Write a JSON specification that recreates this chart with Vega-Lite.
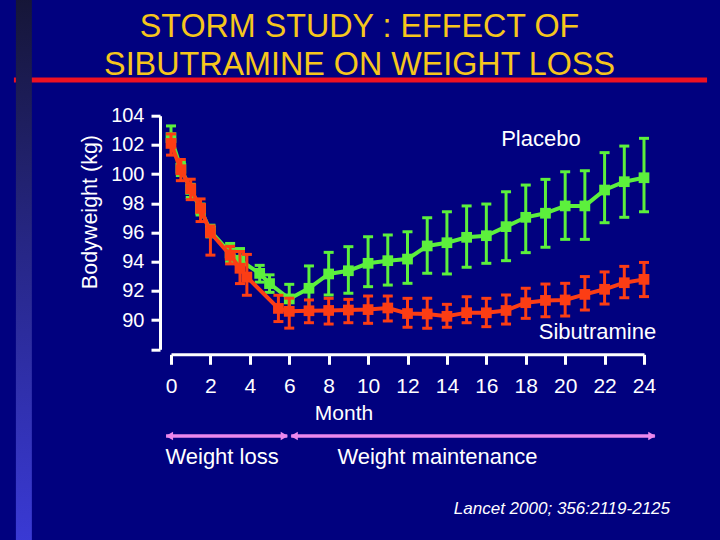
{
  "$schema": "https://vega.github.io/schema/vega-lite/v6.json",
  "width": 473,
  "height": 233.6,
  "autosize": {"type": "none"},
  "padding": {"left": 171, "top": 115.7, "right": 76, "bottom": 190.7},
  "background": "#01017f",
  "config": {
    "view": {"stroke": null},
    "font": "Liberation Sans",
    "axis": {
      "domainColor": "#ffffff",
      "domainWidth": 3,
      "tickColor": "#ffffff",
      "tickWidth": 3,
      "labelColor": "#ffffff",
      "labelFont": "Liberation Sans",
      "grid": false,
      "labelOverlap": false,
      "labelFlush": false
    },
    "axisX": {"offset": 5, "tickSize": 10, "labelPadding": 11, "labelFontSize": 21, "tickCount": 13},
    "axisY": {"offset": 11, "tickSize": 9, "labelPadding": 7, "labelFontSize": 20, "tickCount": 9, "labelExpr": "datum.value == 88 ? '' : datum.label"}
  },
  "datasets": {
    "weights": [
      {"group": "Placebo", "month": 0, "kg": 102.5, "lo": 101.9, "hi": 103.3},
      {"group": "Placebo", "month": 0.5, "kg": 100.4, "lo": 99.9, "hi": 100.8},
      {"group": "Placebo", "month": 1, "kg": 98.95, "lo": 98.4, "hi": 99.3},
      {"group": "Placebo", "month": 1.5, "kg": 97.6, "lo": 97.2, "hi": 97.95},
      {"group": "Placebo", "month": 2, "kg": 96.1, "lo": 95.7, "hi": 96.5},
      {"group": "Placebo", "month": 3, "kg": 94.6, "lo": 94.0, "hi": 95.25},
      {"group": "Placebo", "month": 3.5, "kg": 94.1, "lo": 93.4, "hi": 94.9},
      {"group": "Placebo", "month": 4.5, "kg": 93.2, "lo": 92.6, "hi": 93.75},
      {"group": "Placebo", "month": 5, "kg": 92.5, "lo": 91.9, "hi": 93.1},
      {"group": "Placebo", "month": 6, "kg": 91.45, "lo": 90.5, "hi": 92.45},
      {"group": "Placebo", "month": 7, "kg": 92.18, "lo": 90.64, "hi": 93.71},
      {"group": "Placebo", "month": 8, "kg": 93.16, "lo": 91.72, "hi": 94.64},
      {"group": "Placebo", "month": 9, "kg": 93.38, "lo": 91.84, "hi": 95.03},
      {"group": "Placebo", "month": 10, "kg": 93.89, "lo": 92.29, "hi": 95.71},
      {"group": "Placebo", "month": 11, "kg": 94.07, "lo": 92.4, "hi": 95.83},
      {"group": "Placebo", "month": 12, "kg": 94.18, "lo": 92.52, "hi": 96.05},
      {"group": "Placebo", "month": 13, "kg": 95.08, "lo": 93.21, "hi": 97.01},
      {"group": "Placebo", "month": 14, "kg": 95.3, "lo": 93.16, "hi": 97.42},
      {"group": "Placebo", "month": 15, "kg": 95.67, "lo": 93.62, "hi": 97.82},
      {"group": "Placebo", "month": 16, "kg": 95.78, "lo": 93.89, "hi": 97.95},
      {"group": "Placebo", "month": 17, "kg": 96.4, "lo": 94.07, "hi": 98.79},
      {"group": "Placebo", "month": 18, "kg": 97.04, "lo": 94.62, "hi": 99.25},
      {"group": "Placebo", "month": 19, "kg": 97.32, "lo": 94.99, "hi": 99.64},
      {"group": "Placebo", "month": 20, "kg": 97.82, "lo": 95.53, "hi": 100.16},
      {"group": "Placebo", "month": 21, "kg": 97.82, "lo": 95.53, "hi": 100.23},
      {"group": "Placebo", "month": 22, "kg": 98.91, "lo": 96.67, "hi": 101.47},
      {"group": "Placebo", "month": 23, "kg": 99.48, "lo": 97.04, "hi": 101.92},
      {"group": "Placebo", "month": 24, "kg": 99.75, "lo": 97.42, "hi": 102.45},
      {"group": "Sibutramine", "month": 0, "kg": 102.1, "lo": 101.3, "hi": 102.75},
      {"group": "Sibutramine", "month": 0.5, "kg": 100.3, "lo": 99.55, "hi": 101.0},
      {"group": "Sibutramine", "month": 1, "kg": 99.0, "lo": 98.25, "hi": 99.65},
      {"group": "Sibutramine", "month": 1.5, "kg": 97.65, "lo": 96.75, "hi": 98.3},
      {"group": "Sibutramine", "month": 2, "kg": 96.0, "lo": 94.45, "hi": 96.45},
      {"group": "Sibutramine", "month": 3, "kg": 94.45, "lo": 93.85, "hi": 95.05},
      {"group": "Sibutramine", "month": 3.5, "kg": 93.55, "lo": 92.5, "hi": 94.7},
      {"group": "Sibutramine", "month": 3.85, "kg": 92.95, "lo": 91.7, "hi": 94.5},
      {"group": "Sibutramine", "month": 5.45, "kg": 90.8, "lo": 89.9, "hi": 91.7},
      {"group": "Sibutramine", "month": 6, "kg": 90.6, "lo": 89.45, "hi": 91.5},
      {"group": "Sibutramine", "month": 7, "kg": 90.64, "lo": 89.82, "hi": 91.38},
      {"group": "Sibutramine", "month": 8, "kg": 90.66, "lo": 89.73, "hi": 91.49},
      {"group": "Sibutramine", "month": 9, "kg": 90.69, "lo": 89.82, "hi": 91.42},
      {"group": "Sibutramine", "month": 10, "kg": 90.72, "lo": 89.78, "hi": 91.65},
      {"group": "Sibutramine", "month": 11, "kg": 90.83, "lo": 89.94, "hi": 91.65},
      {"group": "Sibutramine", "month": 12, "kg": 90.45, "lo": 89.51, "hi": 91.49},
      {"group": "Sibutramine", "month": 13, "kg": 90.42, "lo": 89.44, "hi": 91.49},
      {"group": "Sibutramine", "month": 14, "kg": 90.26, "lo": 89.51, "hi": 91.08},
      {"group": "Sibutramine", "month": 15, "kg": 90.51, "lo": 89.82, "hi": 91.6},
      {"group": "Sibutramine", "month": 16, "kg": 90.5, "lo": 89.55, "hi": 91.49},
      {"group": "Sibutramine", "month": 17, "kg": 90.66, "lo": 89.73, "hi": 91.72},
      {"group": "Sibutramine", "month": 18, "kg": 91.19, "lo": 90.12, "hi": 92.18},
      {"group": "Sibutramine", "month": 19, "kg": 91.35, "lo": 90.23, "hi": 92.47},
      {"group": "Sibutramine", "month": 20, "kg": 91.38, "lo": 90.28, "hi": 92.52},
      {"group": "Sibutramine", "month": 21, "kg": 91.76, "lo": 90.69, "hi": 92.98},
      {"group": "Sibutramine", "month": 22, "kg": 92.11, "lo": 91.1, "hi": 93.3},
      {"group": "Sibutramine", "month": 23, "kg": 92.56, "lo": 91.53, "hi": 93.68},
      {"group": "Sibutramine", "month": 24, "kg": 92.79, "lo": 91.61, "hi": 93.95}
    ]
  },
  "layer": [
    {
      "data": {"name": "weights"},
      "transform": [{"filter": "datum.group === 'Placebo'"}],
      "encoding": {
        "x": {
          "field": "month", "type": "quantitative", "title": null,
          "scale": {"domain": [0, 24], "nice": false, "zero": false}
        },
        "color": {"field": "group", "type": "nominal", "scale": {"domain": ["Placebo", "Sibutramine"], "range": ["#5cf03c", "#fc3d14"]}, "legend": null}
      },
      "layer": [
        {
          "mark": {"type": "rule", "strokeWidth": 3},
          "encoding": {
            "y": {
              "field": "lo", "type": "quantitative", "title": null,
              "scale": {"domain": [88, 104], "nice": false, "zero": false}
            },
            "y2": {"field": "hi"}
          }
        },
        {
          "mark": {"type": "tick", "orient": "horizontal", "size": 10, "thickness": 3, "opacity": 1},
          "encoding": {"y": {"field": "lo", "type": "quantitative", "title": null}}
        },
        {
          "mark": {"type": "tick", "orient": "horizontal", "size": 10, "thickness": 3, "opacity": 1},
          "encoding": {"y": {"field": "hi", "type": "quantitative", "title": null}}
        },
        {
          "mark": {"type": "line", "strokeWidth": 4},
          "encoding": {"y": {"field": "kg", "type": "quantitative", "title": null}}
        },
        {
          "mark": {"type": "point", "shape": "square", "filled": true, "size": 115, "opacity": 1},
          "encoding": {"y": {"field": "kg", "type": "quantitative", "title": null}}
        }
      ]
    },
    {
      "data": {"name": "weights"},
      "transform": [{"filter": "datum.group === 'Sibutramine'"}],
      "encoding": {
        "x": {"field": "month", "type": "quantitative", "title": null},
        "color": {"field": "group", "type": "nominal", "scale": {"domain": ["Placebo", "Sibutramine"], "range": ["#5cf03c", "#fc3d14"]}, "legend": null}
      },
      "layer": [
        {
          "mark": {"type": "rule", "strokeWidth": 3},
          "encoding": {"y": {"field": "lo", "type": "quantitative", "title": null}, "y2": {"field": "hi"}}
        },
        {
          "mark": {"type": "tick", "orient": "horizontal", "size": 10, "thickness": 3, "opacity": 1},
          "encoding": {"y": {"field": "lo", "type": "quantitative", "title": null}}
        },
        {
          "mark": {"type": "tick", "orient": "horizontal", "size": 10, "thickness": 3, "opacity": 1},
          "encoding": {"y": {"field": "hi", "type": "quantitative", "title": null}}
        },
        {
          "mark": {"type": "line", "strokeWidth": 4},
          "encoding": {"y": {"field": "kg", "type": "quantitative", "title": null}}
        },
        {
          "mark": {"type": "point", "shape": "square", "filled": true, "size": 115, "opacity": 1},
          "encoding": {"y": {"field": "kg", "type": "quantitative", "title": null}}
        }
      ]
    },
    {
      "data": {"values": [{}]},
      "mark": {"type": "rule", "color": "#ee1122", "strokeWidth": 5},
      "encoding": {
        "x": {"datum": -7.97, "type": "quantitative"},
        "x2": {"datum": 27.2},
        "y": {"datum": 106.45, "type": "quantitative"}
      }
    },
    {
      "data": {"values": [{}]},
      "mark": {
        "type": "rect",
        "stroke": null,
        "fill": {
          "gradient": "linear",
          "x1": 0, "y1": 0, "x2": 0, "y2": 1,
          "stops": [
            {"offset": 0, "color": "#151535"},
            {"offset": 0.45, "color": "#262684"},
            {"offset": 1, "color": "#3a3ad6"}
          ]
        }
      },
      "encoding": {
        "x": {"datum": -7.87, "type": "quantitative"},
        "x2": {"datum": -7.06},
        "y": {"datum": 112.5, "type": "quantitative"},
        "y2": {"datum": 74.5}
      }
    },
    {
      "data": {"values": [{}]},
      "mark": {"type": "text", "text": "STORM STUDY : EFFECT OF", "fontSize": 32.3, "color": "#f6c61c", "align": "center", "baseline": "alphabetic"},
      "encoding": {
        "x": {"datum": 9.565, "type": "quantitative"},
        "y": {"datum": 109.37, "type": "quantitative"}
      }
    },
    {
      "data": {"values": [{}]},
      "mark": {"type": "text", "text": "SIBUTRAMINE ON WEIGHT LOSS", "fontSize": 32.3, "color": "#f6c61c", "align": "center", "baseline": "alphabetic"},
      "encoding": {
        "x": {"datum": 9.565, "type": "quantitative"},
        "y": {"datum": 106.79, "type": "quantitative"}
      }
    },
    {
      "data": {"values": [{}]},
      "mark": {"type": "text", "text": "Bodyweight (kg)", "fontSize": 21.5, "color": "#ffffff", "align": "center", "baseline": "alphabetic", "angle": 270},
      "encoding": {
        "x": {"datum": -3.78, "type": "quantitative"},
        "y": {"datum": 97.4, "type": "quantitative"}
      }
    },
    {
      "data": {"values": [{}]},
      "mark": {"type": "text", "text": "Placebo", "fontSize": 22, "color": "#ffffff", "align": "center", "baseline": "alphabetic"},
      "encoding": {
        "x": {"datum": 18.77, "type": "quantitative"},
        "y": {"datum": 101.92, "type": "quantitative"}
      }
    },
    {
      "data": {"values": [{}]},
      "mark": {"type": "text", "text": "Sibutramine", "fontSize": 22, "color": "#ffffff", "align": "center", "baseline": "alphabetic"},
      "encoding": {
        "x": {"datum": 21.64, "type": "quantitative"},
        "y": {"datum": 88.68, "type": "quantitative"}
      }
    },
    {
      "data": {"values": [{}]},
      "mark": {"type": "text", "text": "Month", "fontSize": 21, "color": "#ffffff", "align": "center", "baseline": "alphabetic"},
      "encoding": {
        "x": {"datum": 8.78, "type": "quantitative"},
        "y": {"datum": 83.16, "type": "quantitative"}
      }
    },
    {
      "data": {"values": [{}]},
      "mark": {"type": "rule", "color": "#ec88ec", "strokeWidth": 3.5},
      "encoding": {
        "x": {"datum": -0.25, "type": "quantitative"},
        "x2": {"datum": 5.9},
        "y": {"datum": 82.06, "type": "quantitative"}
      }
    },
    {
      "data": {"values": [{}]},
      "mark": {"type": "rule", "color": "#ec88ec", "strokeWidth": 3.5},
      "encoding": {
        "x": {"datum": 6.1, "type": "quantitative"},
        "x2": {"datum": 24.55},
        "y": {"datum": 82.06, "type": "quantitative"}
      }
    },
    {
      "data": {"values": [{}]},
      "mark": {"type": "point", "shape": "triangle-left", "filled": true, "size": 70, "color": "#ec88ec", "opacity": 1},
      "encoding": {
        "x": {"datum": -0.08, "type": "quantitative"},
        "y": {"datum": 82.06, "type": "quantitative"}
      }
    },
    {
      "data": {"values": [{}]},
      "mark": {"type": "point", "shape": "triangle-right", "filled": true, "size": 70, "color": "#ec88ec", "opacity": 1},
      "encoding": {
        "x": {"datum": 5.75, "type": "quantitative"},
        "y": {"datum": 82.06, "type": "quantitative"}
      }
    },
    {
      "data": {"values": [{}]},
      "mark": {"type": "point", "shape": "triangle-left", "filled": true, "size": 70, "color": "#ec88ec", "opacity": 1},
      "encoding": {
        "x": {"datum": 6.25, "type": "quantitative"},
        "y": {"datum": 82.06, "type": "quantitative"}
      }
    },
    {
      "data": {"values": [{}]},
      "mark": {"type": "point", "shape": "triangle-right", "filled": true, "size": 70, "color": "#ec88ec", "opacity": 1},
      "encoding": {
        "x": {"datum": 24.4, "type": "quantitative"},
        "y": {"datum": 82.06, "type": "quantitative"}
      }
    },
    {
      "data": {"values": [{}]},
      "mark": {"type": "text", "text": "Weight loss", "fontSize": 22, "color": "#ffffff", "align": "center", "baseline": "alphabetic"},
      "encoding": {
        "x": {"datum": 2.59, "type": "quantitative"},
        "y": {"datum": 80.14, "type": "quantitative"}
      }
    },
    {
      "data": {"values": [{}]},
      "mark": {"type": "text", "text": "Weight maintenance", "fontSize": 22, "color": "#ffffff", "align": "center", "baseline": "alphabetic"},
      "encoding": {
        "x": {"datum": 13.52, "type": "quantitative"},
        "y": {"datum": 80.14, "type": "quantitative"}
      }
    },
    {
      "data": {"values": [{}]},
      "mark": {"type": "text", "text": "Lancet 2000; 356:2119-2125", "fontSize": 17, "fontStyle": "italic", "color": "#ffffff", "align": "right", "baseline": "alphabetic"},
      "encoding": {
        "x": {"datum": 25.32, "type": "quantitative"},
        "y": {"datum": 76.72, "type": "quantitative"}
      }
    }
  ]
}
